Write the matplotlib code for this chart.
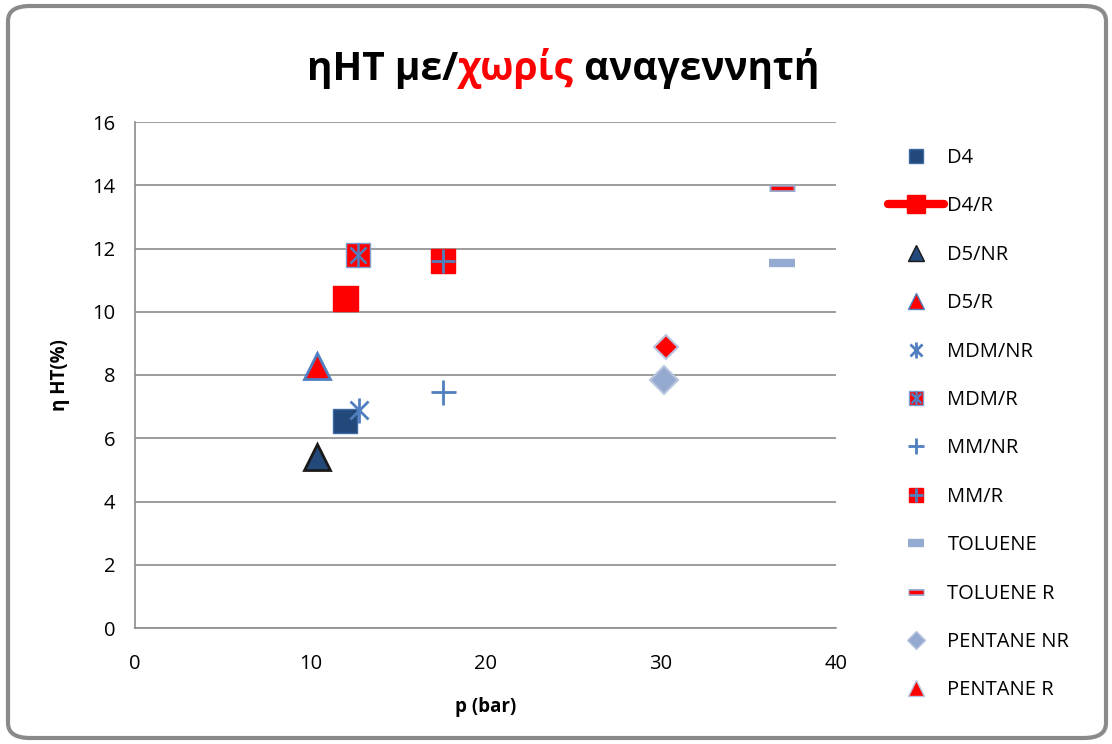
import matplotlib
matplotlib.use("Agg")
import matplotlib.pyplot as plt
from matplotlib.lines import Line2D
from matplotlib.legend_handler import HandlerTuple
from matplotlib.patches import FancyBboxPatch

plt.rcParams['font.family'] = ['Open Sans', 'DejaVu Sans']

# ---- data ----
series_names = ["D4", "D4/R", "D5/NR", "D5/R", "MDM/NR", "MDM/R",
                "MM/NR", "MM/R", "TOLUENE", "TOLUENE R", "PENTANE NR", "PENTANE R"]
p_bar = [12.0, 12.0, 10.4, 10.4, 12.8, 12.7, 17.6, 17.6, 36.9, 36.9, 30.2, 30.3]
eta_ht = [6.55, 10.45, 5.4, 8.3, 6.9, 11.8, 7.45, 11.6, 11.55, 13.9, 7.85, 8.9]
x_ticks = [0, 10, 20, 30, 40]
y_ticks = [0, 2, 4, 6, 8, 10, 12, 14, 16]

DARK = "#23497a"
BLUE = "#4f7fbf"
STEEL = "#95aad0"
RED = "#ff0000"

fig = plt.figure(figsize=(11.12, 7.44), dpi=100)
W, H = 1112, 744
ax = fig.add_axes([135 / W, 1 - 628 / H, (836 - 135) / W, (628 - 122) / H])

# styles per series: list of layers (marker, size, face, edge, mew)
styles = {
    "D4": [("s", 17, DARK, "#3d6aa5", 1.0)],
    "D4/R": [("s", 18, RED, RED, 1.0)],
    "D5/NR": [("^", 19, DARK, "#1a1a1a", 2.0)],
    "D5/R": [("^", 19, RED, BLUE, 2.0)],
    "MDM/NR": [("x", 13, BLUE, BLUE, 2.0), ("|", 18, BLUE, BLUE, 2.0)],
    "MDM/R": [("s", 17, RED, "#7f9fd0", 1.0), ("x", 12, BLUE, BLUE, 1.8), ("|", 17, BLUE, BLUE, 1.8)],
    "MM/NR": [("+", 18, BLUE, BLUE, 2.0)],
    "MM/R": [("s", 17, RED, RED, 1.0), ("+", 17, BLUE, BLUE, 2.0)],
    "TOLUENE": [("_", 19, STEEL, STEEL, 6.0)],
    "TOLUENE R": [("_", 19, STEEL, STEEL, 5.0), ("_", 16, RED, RED, 2.5)],
    "PENTANE NR": [("D", 14, STEEL, "#b9c6df", 1.5)],
    "PENTANE R": [("D", 12, RED, "#b9c6df", 1.5)],
}
legend_styles = {
    "PENTANE R": [("^", 11, RED, "#b9c6df", 1.5)],
}

for name, x, y in zip(series_names, p_bar, eta_ht):
    for mk, ms, fc, ec, mew in styles[name]:
        ax.plot([x], [y], linestyle='none', marker=mk, markersize=ms,
                markerfacecolor=fc, markeredgecolor=ec, markeredgewidth=mew,
                zorder=3)

ax.set_xlim(0, 40)
ax.set_ylim(0, 16)
ax.set_xticks(x_ticks)
ax.set_yticks(y_ticks)
ax.tick_params(axis='both', labelsize=14.5, length=0)
ax.tick_params(axis='x', pad=19)
ax.tick_params(axis='y', pad=14)
ax.grid(axis='y', color='#8c8c8c', linewidth=1.2)
ax.set_axisbelow(True)
for s in ['top', 'right']:
    ax.spines[s].set_visible(False)
for s in ['left', 'bottom']:
    ax.spines[s].set_color('#8c8c8c')
    ax.spines[s].set_linewidth(1.2)
ax.set_xlabel("p (bar)", fontsize=13.5, fontweight='bold', labelpad=16)
ax.set_ylabel("η HT(%)", fontsize=13.5, fontweight='bold', labelpad=16)

# legend handles
handles = []
scale = 0.62
for name in series_names:
    layers = legend_styles.get(name, styles[name])
    parts = []
    for mk, ms, fc, ec, mew in layers:
        s = ms * scale if name not in legend_styles else ms
        parts.append(Line2D([], [], linestyle='none', marker=mk, markersize=s,
                            markerfacecolor=fc, markeredgecolor=ec,
                            markeredgewidth=mew if mk in ('x', '|', '+', '_') else min(mew, 1.0)))
    if name == "D4/R":
        parts = [Line2D([], [], color=RED, linewidth=6, solid_capstyle='round',
                        marker='s', markersize=13, markerfacecolor=RED, markeredgecolor=RED)]
    handles.append(tuple(parts))

fig.legend(handles, series_names, loc='upper left',
           bbox_to_anchor=(888 / W, 1 - 148 / H), frameon=False,
           fontsize=14.5, labelspacing=1.41, handlelength=2.8, handletextpad=0.15,
           borderpad=0, borderaxespad=0,
           handler_map={tuple: HandlerTuple(ndivide=1, pad=0)})

# title with coloured word
parts = [("ηHT με/", "black"), ("χωρίς", RED), (" αναγεννητή", "black")]
fig.canvas.draw()
renderer = fig.canvas.get_renderer()
texts = []
widths = []
for t, c in parts:
    tx = fig.text(0, 0, t, fontsize=28, fontweight='bold', color=c,
                  family=['Open Sans', 'DejaVu Sans'], va='baseline')
    bb = tx.get_window_extent(renderer)
    widths.append(bb.width)
    texts.append(tx)
total = sum(widths)
x0 = (563 - total / 2)
for tx, w in zip(texts, widths):
    tx.set_position((x0 / W, 1 - 80 / H))
    x0 += w

# rounded border
border = FancyBboxPatch((8 / W, 6 / H), (W - 14) / W, (H - 12) / H,
                        boxstyle="round,pad=0,rounding_size=0.02",
                        transform=fig.transFigure, facecolor='none',
                        edgecolor='#8a8a8a', linewidth=3, zorder=-1)
fig.patches.append(border)

fig.savefig("out.png", dpi=100)
